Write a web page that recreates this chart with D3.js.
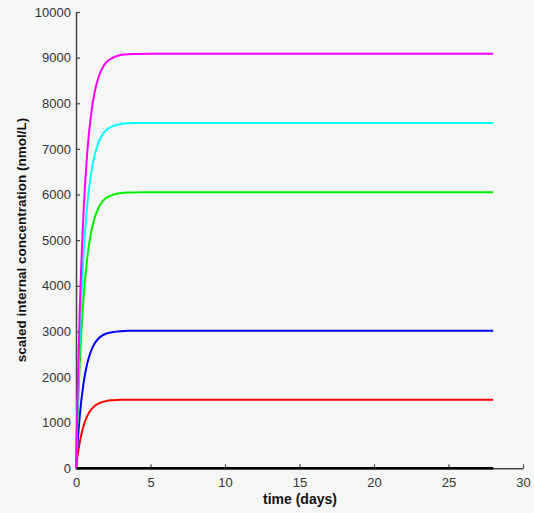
<!DOCTYPE html>
<html><head><meta charset="utf-8">
<script src="https://cdn.jsdelivr.net/npm/d3@7"></script>
<style>body{margin:0;background:#f5f7f5;}svg{display:block;}</style>
</head><body>
<svg id="c" width="534" height="513"></svg>
<script>
const times = [0, 0.1, 0.25, 0.5, 0.75, 1, 1.25, 1.5, 1.75, 2, 2.5, 3, 3.5, 4, 5, 6, 28];
const magenta = [0, 1572, 3434, 5569, 6905, 7722, 8240, 8558, 8758, 8885, 9003, 9058, 9076, 9080, 9085, 9085, 9085];
const cyan    = [0, 1310, 2861, 4640, 5753, 6435, 6866, 7131, 7297, 7403, 7502, 7547, 7562, 7566, 7570, 7570, 7570];
const green   = [0, 1047, 2287, 3709, 4598, 5143, 5487, 5699, 5832, 5917, 5996, 6032, 6044, 6047, 6050, 6050, 6050];
const blue    = [0, 522, 1140, 1848, 2291, 2563, 2735, 2840, 2906, 2949, 2988, 3006, 3012, 3013, 3015, 3015, 3015];
const red     = [0, 260, 569, 923, 1144, 1279, 1365, 1418, 1451, 1472, 1491, 1500, 1503, 1504, 1505, 1505, 1505];
const zeroTimes = [0, 28];
const zeroVals = [0, 0];
const xTicks = [0, 5, 10, 15, 20, 25, 30];
const yTicks = [0, 1000, 2000, 3000, 4000, 5000, 6000, 7000, 8000, 9000, 10000];

const svg = d3.select("#c");
const x = d3.scaleLinear().domain([0, 30]).range([76, 523]);
const y = d3.scaleLinear().domain([0, 10000]).range([468.3, 12]);
const font = "'Liberation Sans', Arial, sans-serif";

const series = [
  {t: zeroTimes, v: zeroVals, c: "#000000"},
  {t: times, v: red, c: "#ff0000"},
  {t: times, v: blue, c: "#0000ff"},
  {t: times, v: green, c: "#00ee00"},
  {t: times, v: cyan, c: "#00ffff"},
  {t: times, v: magenta, c: "#ff00ff"}
];

// axes
const xAxis = svg.append("g").attr("transform", `translate(0,${y(0)})`)
  .call(d3.axisBottom(x).tickValues(xTicks).tickFormat(d3.format("d")).tickSizeInner(-4).tickSizeOuter(0).tickPadding(9));
const yAxis = svg.append("g").attr("transform", `translate(${x(0)},0)`)
  .call(d3.axisLeft(y).tickValues(yTicks).tickFormat(d3.format("d")).tickSizeInner(-4).tickSizeOuter(0).tickPadding(5));
[xAxis, yAxis].forEach(a => {
  a.select(".domain").attr("stroke", "#444").attr("stroke-width", 1.5);
  a.selectAll(".tick line").attr("stroke", "#444").attr("stroke-width", 1.2);
  a.selectAll(".tick text").attr("fill", "#333").style("font-family", font).style("font-size", "13px");
});

const line = d3.line().curve(d3.curveMonotoneX);
series.forEach(s => {
  svg.append("path")
    .attr("d", line(s.t.map((t, i) => [x(t), y(s.v[i])])))
    .attr("fill", "none").attr("stroke", s.c).attr("stroke-width", s.c === "#000000" ? 2.5 : 2);
});

svg.append("text").attr("x", 300).attr("y", 504).attr("text-anchor", "middle")
  .style("font-family", font).style("font-size", "14px").style("font-weight", "bold")
  .attr("fill", "#111").text("time (days)");
svg.append("text").attr("transform", "translate(26,240) rotate(-90)").attr("text-anchor", "middle")
  .style("font-family", font).style("font-size", "13.5px").style("font-weight", "bold")
  .attr("fill", "#111").text("scaled internal concentration (nmol/L)");
</script>
</body></html>
